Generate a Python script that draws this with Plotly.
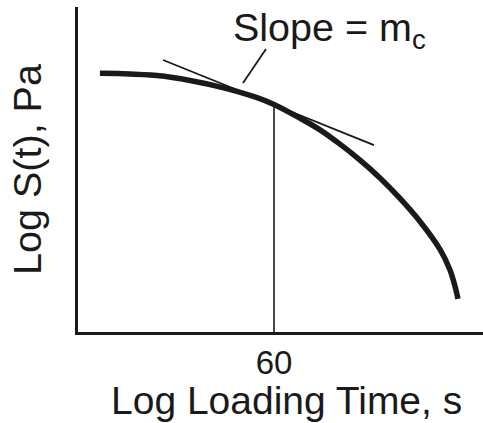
import plotly.graph_objects as go

# Master curve (schematic): loading time (s, log axis) vs log stiffness (arbitrary units)
curve_time = [1.09, 1.85, 4.06, 8.68, 18.5, 40.6, 60, 109, 173, 274, 435, 689,
              1092, 1731, 2743, 3453, 3786, 4152]
curve_logS = [7.96, 7.95, 7.89, 7.74, 7.52, 7.21, 7.00, 6.58, 6.22, 5.78, 5.29, 4.74,
              4.11, 3.40, 2.54, 1.91, 1.52, 1.02]

# Tangent line at t = 60 s
tangent_time = [4.66, 600]
tangent_logS = [8.37, 5.75]

# Callout leader for the slope label
callout_time = [29.4, 49.9]
callout_logS = [7.66, 8.71]

# Reference time
ref_time = [60, 60]
ref_logS = [0, 7.00]

tick_vals = [60]
tick_text = ["60"]

FONT = "Liberation Sans, Arial, Helvetica, sans-serif"
INK = "#1a1a1a"

fig = go.Figure()
fig.add_trace(go.Scatter(x=ref_time, y=ref_logS, mode="lines",
                         line=dict(color=INK, width=1.6), hoverinfo="skip"))
fig.add_trace(go.Scatter(x=tangent_time, y=tangent_logS, mode="lines",
                         line=dict(color=INK, width=1.8), hoverinfo="skip"))
fig.add_trace(go.Scatter(x=callout_time, y=callout_logS, mode="lines",
                         line=dict(color=INK, width=1.8), hoverinfo="skip"))
fig.add_trace(go.Scatter(x=curve_time, y=curve_logS, mode="lines",
                         line=dict(color=INK, width=5.5, shape="spline", smoothing=1.0),
                         hoverinfo="skip"))

fig.add_annotation(x=1.348, y=9.29, xref="x", yref="y", text="Slope = m<sub>c</sub>",
                   showarrow=False, xanchor="left", yanchor="middle",
                   font=dict(family=FONT, size=39.5, color=INK))

# x-axis title (placed slightly right of plot centre, as in the original)
fig.add_annotation(x=0.5136, y=-0.212, xref="paper", yref="paper",
                   text="Log Loading Time, s", showarrow=False,
                   xanchor="center", yanchor="middle",
                   font=dict(family=FONT, size=39, color=INK))

fig.update_layout(
    width=483, height=423,
    margin=dict(l=78, r=0, t=7, b=91),
    paper_bgcolor="white", plot_bgcolor="white",
    showlegend=False,
    font=dict(family=FONT, color=INK),
)
fig.update_xaxes(type="log", range=[-0.1818, 3.8682],
                 showline=True, linecolor=INK, linewidth=2.5,
                 showgrid=False, zeroline=False, ticks="",
                 tickvals=tick_vals, ticktext=tick_text,
                 tickfont=dict(family=FONT, size=33, color=INK))
fig.update_yaxes(range=[0, 10],
                 showline=True, linecolor=INK, linewidth=2.5,
                 showgrid=False, zeroline=False, ticks="", showticklabels=False,
                 title=dict(text="Log S(t), Pa", standoff=22,
                            font=dict(family=FONT, size=39.5, color=INK)))

fig.write_html("out.html")
